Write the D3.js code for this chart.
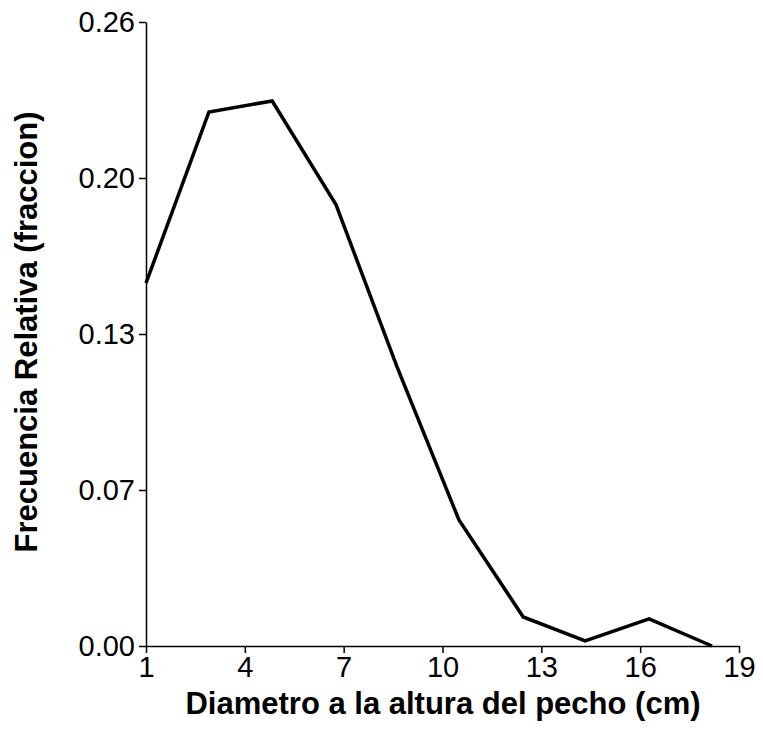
<!DOCTYPE html>
<html>
<head>
<meta charset="utf-8">
<script src="https://cdn.jsdelivr.net/npm/d3@7"></script>
<style>
  body { margin: 0; background: #fff; }
  text { font-family: Arial, "Liberation Sans", sans-serif; fill: #000; }
  .tick text { font-size: 29px; }
  .axis path, .axis line { stroke: #000; stroke-width: 1.5px; }
  .axis-label { font-size: 31px; font-weight: bold; }
</style>
</head>
<body>
<div id="container"></div>
<script>
'use strict';

const width = 763,
      height = 732,
      margin = {top: 22, bottom: 86, right: 24, left: 146};

// diameter class midpoints (cm) and relative frequency
const diameters = [1.0, 2.91, 4.83, 6.77, 8.62, 10.5, 12.45, 14.33, 16.27, 18.18];
const frequencies = [0.1512, 0.2225, 0.2271, 0.1838, 0.1163, 0.0525, 0.0121, 0.0021, 0.0113, 0.0];

const xTicks = [1, 4, 7, 10, 13, 16, 19];
const yTicks = [0, 0.065, 0.13, 0.195, 0.26];
const yTickLabels = ["0.00", "0.07", "0.13", "0.20", "0.26"];

const data = diameters.map((d, i) => ({x: d, y: frequencies[i]}));

const xScale = d3.scaleLinear()
  .domain([1, 19])
  .range([margin.left, width - margin.right]);

const yScale = d3.scaleLinear()
  .domain([0, 0.26])
  .range([height - margin.bottom, margin.top]);

const svg = d3.select("#container")
  .append("svg")
  .attr("width", width)
  .attr("height", height);

const xAxis = d3.axisBottom(xScale)
  .tickValues(xTicks)
  .tickSize(7)
  .tickSizeOuter(0)
  .tickPadding(3)
  .tickFormat(d3.format("d"));

const yAxis = d3.axisLeft(yScale)
  .tickValues(yTicks)
  .tickSize(7)
  .tickSizeOuter(0)
  .tickPadding(4)
  .tickFormat((d, i) => yTickLabels[i]);

svg.append("g")
  .attr("class", "axis x-axis")
  .attr("transform", `translate(0, ${height - margin.bottom})`)
  .call(xAxis);

svg.append("g")
  .attr("class", "axis y-axis")
  .attr("transform", `translate(${margin.left}, 0)`)
  .call(yAxis);

svg.selectAll(".tick text").attr("fill", "#000");

svg.append("path")
  .datum(data)
  .attr("fill", "none")
  .attr("stroke", "#000")
  .attr("stroke-width", 3.5)
  .attr("stroke-linejoin", "miter")
  .attr("d", d3.line().x(d => xScale(d.x)).y(d => yScale(d.y)));

svg.append("text")
  .attr("class", "axis-label")
  .attr("x", 443)
  .attr("y", 714)
  .attr("text-anchor", "middle")
  .text("Diametro a la altura del pecho (cm)");

svg.append("text")
  .attr("class", "axis-label")
  .attr("transform", `translate(37, 332) rotate(-90)`)
  .attr("text-anchor", "middle")
  .text("Frecuencia Relativa (fraccion)");
</script>
</body>
</html>
